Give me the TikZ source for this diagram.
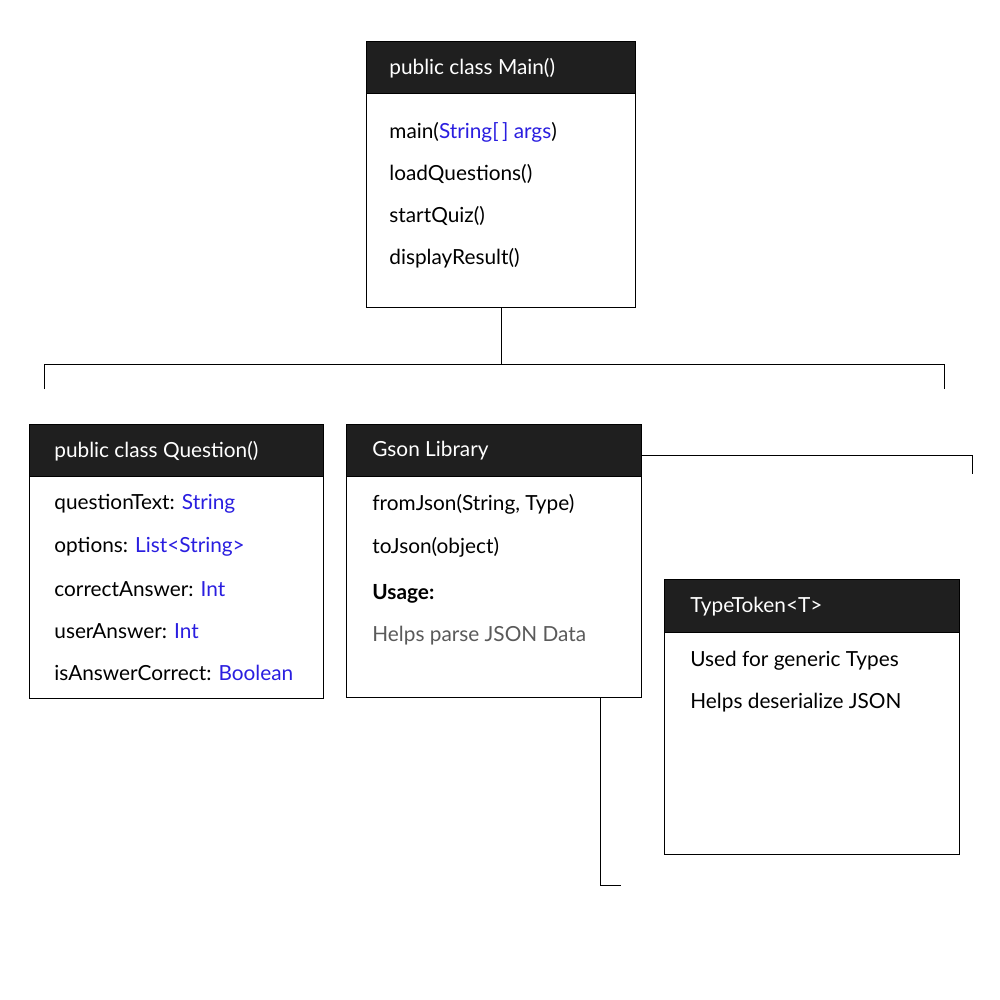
\documentclass[tikz,border=0pt]{standalone}
\usepackage{fontspec}
\setmainfont{Lato}
\definecolor{headfill}{HTML}{1F1F1F}
\definecolor{typeblue}{HTML}{2A1EE0}
\definecolor{notegray}{HTML}{5A5A5A}
\begin{document}
\begin{tikzpicture}[x=0.5pt,y=-0.5pt]
		\tikzstyle{every node}+=[inner sep=0pt]
		\tikzstyle{classbox}=[draw=black, line width=0.5pt, fill=white, anchor=north west]
		\tikzstyle{headbox}=[draw=black, line width=0.5pt, fill=headfill, anchor=north west]
		\tikzstyle{headtext}=[text=white, anchor=west, font=\fontsize{10.4pt}{12pt}\selectfont]
		\tikzstyle{rowtext}=[text=black, anchor=west, font=\fontsize{10.4pt}{12pt}\selectfont]
		\tikzstyle{link}=[black, line width=0.5pt]
		\useasboundingbox (0,0) rectangle (1000,1000);
		% main class
		\node [classbox, minimum width=134.5pt, minimum height=133pt] (main) at (366,41) {};
		\node [headbox, minimum width=134.5pt, minimum height=26pt] (mainhead) at (366,41) {};
		\node [headtext] (maintitle) at (389,68) {public class Main()};
		\node [rowtext] (m1) at (389,132) {main(\textcolor{typeblue}{String[\,] args})};
		\node [rowtext] (m2) at (389,174) {loadQuestions()};
		\node [rowtext] (m3) at (389,216) {startQuiz()};
		\node [rowtext] (m4) at (389,258) {displayResult()};
		% question class
		\node [classbox, minimum width=147pt, minimum height=137pt] (question) at (29,424) {};
		\node [headbox, minimum width=147pt, minimum height=26pt] (questionhead) at (29,424) {};
		\node [headtext] (questiontitle) at (54,451) {public class Question()};
		\node [rowtext] (q1) at (54,504) {questionText: \textcolor{typeblue}{String}};
		\node [rowtext] (q2) at (54,547) {options: \textcolor{typeblue}{List<String>}};
		\node [rowtext] (q3) at (54,589) {correctAnswer: \textcolor{typeblue}{Int}};
		\node [rowtext] (q4) at (54,631) {userAnswer: \textcolor{typeblue}{Int}};
		\node [rowtext] (q5) at (54,673) {isAnswerCorrect: \textcolor{typeblue}{Boolean}};
		% gson library
		\node [classbox, minimum width=147.5pt, minimum height=136.5pt] (gson) at (346,424) {};
		\node [headbox, minimum width=147.5pt, minimum height=26pt] (gsonhead) at (346,424) {};
		\node [headtext] (gsontitle) at (372,451) {Gson Library};
		\node [rowtext] (g1) at (372,504) {fromJson(String, Type)};
		\node [rowtext] (g2) at (372,547) {toJson(object)};
		\node [rowtext] (g3) at (372,594) {\textbf{Usage:}};
		\node [rowtext, text=notegray] (g4) at (372,636) {Helps parse JSON Data};
		% type token
		\node [classbox, minimum width=147.5pt, minimum height=137.5pt] (token) at (664,579) {};
		\node [headbox, minimum width=147.5pt, minimum height=26.5pt] (tokenhead) at (664,579) {};
		\node [headtext] (tokentitle) at (690,607) {TypeToken<T>};
		\node [rowtext] (t1) at (690,661) {Used for generic Types};
		\node [rowtext] (t2) at (690,703) {Helps deserialize JSON};
		% connectors
		\coordinate (bus) at (500,364);
		\coordinate (busL) at (44,364);
		\coordinate (busR) at (944,364);
		\coordinate (tipL) at (44,389);
		\coordinate (tipR) at (944,389);
		\coordinate (sideR) at (972,455);
		\coordinate (sideTip) at (972,474);
		\coordinate (tailC) at (600,885);
		\coordinate (tail) at (621,885);
		\draw [link] (main.south) -- (main.south |- bus);
		\draw [link] (tipL) -- (busL) -- (busR) -- (tipR);
		\draw [link] ([yshift=-15.5pt]gson.north east) -- (sideR) -- (sideTip);
		\draw [link] (gson.south -| tailC) -- (tailC) -- (tail);
	\end{tikzpicture}
\end{document}
